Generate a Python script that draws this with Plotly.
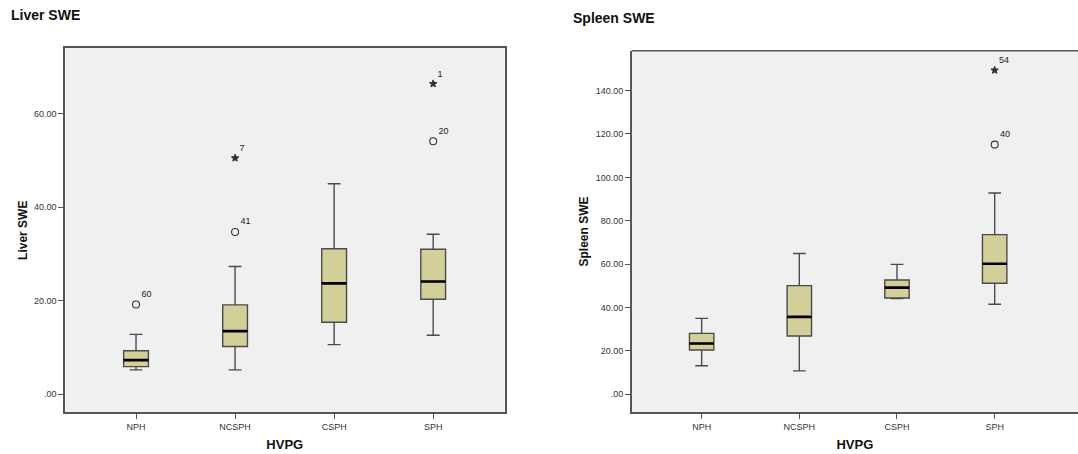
import plotly.graph_objects as go

# HVPG groups on the x axis
groups = ["NPH", "NCSPH", "CSPH", "SPH"]

# Liver SWE box statistics per group
liver_q1 = [5.9, 10.2, 15.4, 20.3]
liver_median = [7.3, 13.5, 23.7, 24.1]
liver_q3 = [9.3, 19.1, 31.1, 31.0]
liver_low = [5.2, 5.2, 10.6, 12.6]
liver_high = [12.8, 27.3, 45.0, 34.2]
# Liver outliers: (group index, value, case label)
liver_out_circle = [(0, 19.2, "60"), (1, 34.7, "41"), (3, 54.1, "20")]
liver_out_star = [(1, 50.5, "7"), (3, 66.4, "1")]
liver_ticks = [0, 20, 40, 60]

# Spleen SWE box statistics per group
spleen_q1 = [20.4, 26.9, 44.4, 51.2]
spleen_median = [23.4, 35.7, 49.2, 60.2]
spleen_q3 = [28.1, 50.1, 52.7, 73.6]
spleen_low = [13.2, 10.8, 44.1, 41.5]
spleen_high = [35.0, 64.9, 59.9, 92.8]
spleen_out_circle = [(3, 115.1, "40")]
spleen_out_star = [(3, 149.4, "54")]
spleen_ticks = [0, 20, 40, 60, 80, 100, 120, 140]

BOX_W = 0.25
FILL = "#d3cf98"
EDGE = "#4a4a4a"
FONT = "Arial, Liberation Sans, sans-serif"

fig = go.Figure()


def add_panel(xa, ya, q1, med, q3, lo, hi, circ, star):
    xs = list(range(len(groups)))
    fig.add_trace(go.Box(
        x=xs, q1=q1, median=med, q3=q3, lowerfence=lo, upperfence=hi,
        width=BOX_W, whiskerwidth=0.52, fillcolor=FILL,
        line=dict(color=EDGE, width=1.4), boxpoints=False,
        xaxis=xa, yaxis=ya, showlegend=False, hoverinfo="skip",
    ))
    # thick black median bars
    mx, my = [], []
    for i, m in zip(xs, med):
        mx += [i - BOX_W / 2, i + BOX_W / 2, None]
        my += [m, m, None]
    fig.add_trace(go.Scatter(
        x=mx, y=my, mode="lines", line=dict(color="#000000", width=2.6),
        xaxis=xa, yaxis=ya, showlegend=False, hoverinfo="skip",
    ))
    for pts, sym, size in ((circ, "circle-open", 7), (star, "star", 5.5)):
        fig.add_trace(go.Scatter(
            x=[p[0] for p in pts], y=[p[1] for p in pts],
            text=[p[2] for p in pts], mode="markers+text",
            textposition="top right",
            textfont=dict(family=FONT, size=9, color="#222222"),
            marker=dict(symbol=sym, size=size, color="#333333",
                        line=dict(color="#333333", width=1.1)),
            xaxis=xa, yaxis=ya, showlegend=False, hoverinfo="skip",
        ))


add_panel("x", "y", liver_q1, liver_median, liver_q3, liver_low, liver_high,
          liver_out_circle, liver_out_star)
add_panel("x2", "y2", spleen_q1, spleen_median, spleen_q3, spleen_low,
          spleen_high, spleen_out_circle, spleen_out_star)


def fmt(v):
    s = f"{v:.2f}"
    return s[1:] if s.startswith("0") else s


tick_font = dict(family=FONT, size=9, color="#333333")
title_font = dict(family=FONT, size=12, color="#111111")

common_x = dict(
    tickmode="array", tickvals=list(range(len(groups))), ticktext=groups,
    ticks="outside", ticklen=5, tickcolor="#555555", tickwidth=1,
    showgrid=False, zeroline=False, showline=True, linecolor="#555555",
    linewidth=1.5, tickfont=tick_font, fixedrange=True,
)
common_y = dict(
    ticks="outside", ticklen=5, tickcolor="#555555", tickwidth=1,
    showgrid=False, zeroline=False, showline=True, linecolor="#555555",
    linewidth=1.5, tickfont=tick_font, fixedrange=True,
)

fig.update_layout(
    width=1078, height=454,
    margin=dict(l=0, r=0, t=0, b=0),
    paper_bgcolor="#ffffff",
    plot_bgcolor="#f0f0f0",
    xaxis=dict(common_x, domain=[0.0603, 0.4680], range=[-0.717, 3.72],
               mirror=True, anchor="y",
               title=dict(text="<b>HVPG</b>", font=dict(title_font, size=13), standoff=9)),
    yaxis=dict(common_y, domain=[0.0920, 0.8937], range=[-3.85, 73.98],
               mirror=True, anchor="x",
               tickmode="array", tickvals=liver_ticks,
               ticktext=[fmt(v) for v in liver_ticks],
               title=dict(text="<b>Liver SWE</b>", font=title_font, standoff=4)),
    xaxis2=dict(common_x, domain=[0.586, 1.0], range=[-0.716, 3.853],
                mirror=False, anchor="y2",
                title=dict(text="<b>HVPG</b>", font=dict(title_font, size=13), standoff=9)),
    yaxis2=dict(common_y, domain=[0.0918, 0.8884], range=[-8.3, 158.4],
                mirror=False, anchor="x2",
                tickmode="array", tickvals=spleen_ticks,
                ticktext=[fmt(v) for v in spleen_ticks],
                title=dict(text="<b>Spleen SWE</b>", font=title_font, standoff=4)),
    annotations=[
        dict(text="<b>Liver SWE</b>", x=9 / 1078, y=1 - 15 / 454,
             xref="paper", yref="paper", xanchor="left", yanchor="middle",
             showarrow=False, font=dict(family=FONT, size=14, color="#111111")),
        dict(text="<b>Spleen SWE</b>", x=571 / 1078, y=1 - 18 / 454,
             xref="paper", yref="paper", xanchor="left", yanchor="middle",
             showarrow=False, font=dict(family=FONT, size=14, color="#111111")),
    ],
    shapes=[
        # top border of the spleen panel
        dict(type="line", xref="paper", yref="paper", x0=0.586, x1=1.0,
             y0=0.8884, y1=0.8884, line=dict(color="#555555", width=1.5)),
    ],
)

fig.write_html("out.html")
